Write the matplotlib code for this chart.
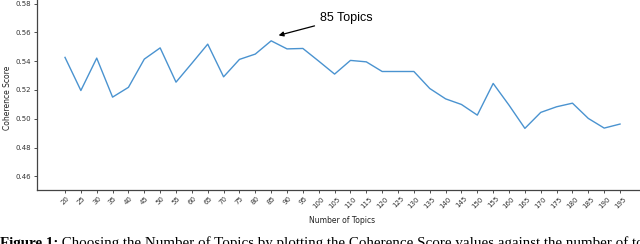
import matplotlib
matplotlib.use('Agg')
import matplotlib.pyplot as plt

# number of topics vs coherence score
topics = [20, 25, 30, 35, 40, 45, 50, 55, 60, 65, 70, 75, 80, 85, 90, 95, 100,
          105, 110, 115, 120, 125, 130, 135, 140, 145, 150, 155, 160, 165, 170,
          175, 180, 185, 190, 195]
coherence = [0.5426, 0.5196, 0.5421, 0.5150, 0.5218, 0.5414, 0.5492, 0.5254,
             0.5385, 0.5518, 0.5291, 0.5412, 0.5449, 0.5541, 0.5485, 0.5488,
             0.5400, 0.5310, 0.5405, 0.5395, 0.5328, 0.5328, 0.5328, 0.5210,
             0.5138, 0.5099, 0.5025, 0.5245, 0.5094, 0.4933, 0.5044, 0.5083,
             0.5108, 0.5002, 0.4935, 0.4963]
yticks = [0.46, 0.48, 0.50, 0.52, 0.54, 0.56, 0.58]

fig = plt.figure(figsize=(6.4, 2.44), dpi=100)
ax = fig.add_axes([37 / 640, 54 / 244, 623 / 640, 200 / 244])

ax.plot(topics, coherence, color='#4a93d0', lw=1.0)

ax.set_xlim(11.17, 207.6)
ax.set_ylim(0.4505, 0.5894)
ax.set_xticks(topics)
ax.set_xticklabels([str(t) for t in topics], rotation=45, fontsize=5,
                   ha='center')
ax.set_yticks(yticks)
ax.set_yticklabels(['%.2f' % v for v in yticks], fontsize=5)
ax.tick_params(length=2, width=0.6, pad=2, colors='#333333')

for s in ['top', 'right']:
    ax.spines[s].set_visible(False)
for s in ['left', 'bottom']:
    ax.spines[s].set_color('#444444')
    ax.spines[s].set_linewidth(0.9)

ax.set_ylabel('Coherence Score', fontsize=5.5, color='#222222')
ax.yaxis.set_label_coords(-0.04, 0.46)
ax.set_xlabel('Number of Topics', fontsize=5.5, color='#222222')
ax.xaxis.set_label_coords(0.4896, -0.13)

ax.annotate('85 Topics', xy=(86.5, 0.5574), xytext=(100.4, 0.5703),
            fontsize=9, family='Liberation Sans', va='center',
            arrowprops=dict(arrowstyle='-|>', color='black', lw=0.9,
                            mutation_scale=7))

# caption below the chart, cut off at the right and bottom edges as in the reference
t1 = fig.text(0.0, -3 / 244, 'Figure 1:', fontsize=10.8, family='Liberation Serif',
              fontweight='bold', va='baseline')
ax.annotate(' Choosing the Number of Topics by plotting the Coherence Score values against the number of topics',
            xy=(1, 0), xycoords=t1, va='bottom', fontsize=10.8,
            family='Liberation Serif', annotation_clip=False)

fig.savefig('out.png', dpi=100)
